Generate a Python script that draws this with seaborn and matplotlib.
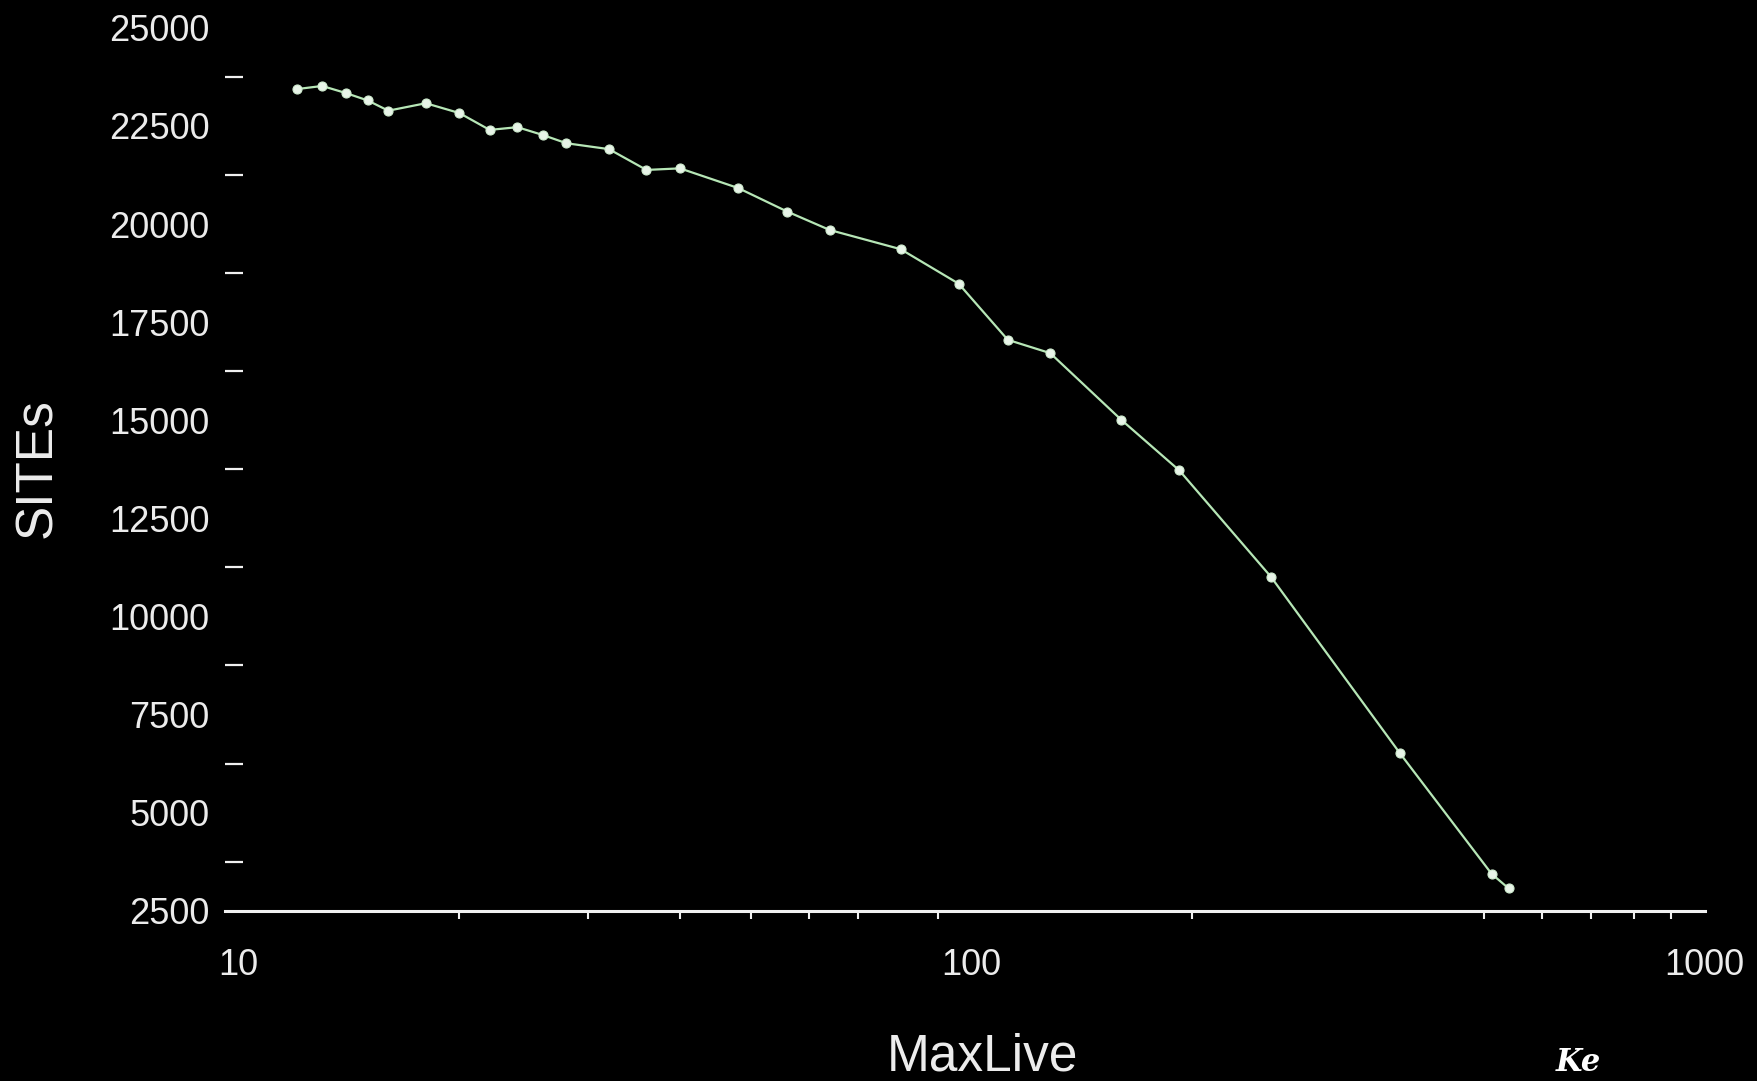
import matplotlib
matplotlib.use("Agg")
import matplotlib.pyplot as plt
import seaborn as sns
import pandas as pd
from matplotlib.ticker import FixedLocator, FixedFormatter, NullFormatter

# ---- data ----
max_live = [12, 13, 14, 15, 16, 18, 20, 22, 24, 26, 28, 32, 36, 40, 48, 56,
            64, 80, 96, 112, 128, 160, 192, 256, 384, 512, 540]
sites = [23440, 23520, 23340, 23150, 22890, 23080, 22830, 22400, 22470, 22270,
         22060, 21910, 21380, 21420, 20920, 20320, 19850, 19360, 18480, 17050,
         16710, 15010, 13720, 11010, 6510, 3440, 3070]

y_tick_values = [2500, 5000, 7500, 10000, 12500, 15000, 17500, 20000, 22500, 25000]
y_tick_labels = ["2500", "5000", "7500", "10000", "12500", "15000", "17500",
                 "20000", "22500", "25000"]
y_mark_values = [3750, 6250, 7500, 8750, 11250, 12500, 13750, 16250, 17500,
                 18750, 21250, 22500, 23750]
x_tick_values = [10, 100, 1000]
x_tick_labels = ["10", "100", "1000"]
x_mark_values = [20, 30, 40, 50, 60, 70, 90, 100, 200, 500, 600, 700, 800, 900]

x_label = "MaxLive"
y_label = "SITEs"
logo_text = "Ke"

# ---- style ----
sns.set_theme(style="dark", rc={
    "figure.facecolor": "black",
    "axes.facecolor": "black",
    "savefig.facecolor": "black",
    "axes.grid": False,
})
plt.rcParams["font.family"] = ["Liberation Sans", "DejaVu Sans"]

W, H = 1758, 1081
fig = plt.figure(figsize=(W / 100, H / 100), dpi=100)
left_px, right_px, bottom_px, top_px = 225, 1704.7, 910.7, 27.9
ax = fig.add_axes([left_px / W, (H - bottom_px) / H,
                   (right_px - left_px) / W, (bottom_px - top_px) / H])
ax.set_facecolor("black")

df = pd.DataFrame({"MaxLive": max_live, "SITEs": sites})
sns.lineplot(data=df, x="MaxLive", y="SITEs", ax=ax, color="#b6e6b6",
             linewidth=1.6, marker="o", markersize=6.5,
             markerfacecolor="#e8f4e8", markeredgecolor="#cfeccf",
             markeredgewidth=0.8)

ax.set_xscale("log")
ax.set_xlim(9.579, 1000)
ax.set_ylim(2500, 25000)

for s in ["top", "right", "left"]:
    ax.spines[s].set_visible(False)
ax.spines["bottom"].set_color("#f0f0f0")
ax.spines["bottom"].set_linewidth(2.2)

txt_col = "#ececec"
ax.xaxis.set_major_locator(FixedLocator(x_tick_values))
ax.xaxis.set_major_formatter(FixedFormatter(x_tick_labels))
ax.xaxis.set_minor_locator(FixedLocator(x_mark_values))
ax.xaxis.set_minor_formatter(NullFormatter())
ax.tick_params(axis="x", which="major", length=0, pad=27, labelsize=26,
               labelcolor=txt_col)
ax.tick_params(axis="x", which="minor", length=6, width=1.5, direction="out",
               color="#f0f0f0", bottom=True)

ax.yaxis.set_major_locator(FixedLocator(y_tick_values))
ax.yaxis.set_major_formatter(FixedFormatter(y_tick_labels))
ax.yaxis.set_minor_locator(FixedLocator(y_mark_values))
ax.yaxis.set_minor_formatter(NullFormatter())
ax.tick_params(axis="y", which="major", length=0, pad=11, labelsize=26,
               labelcolor=txt_col)
ax.tick_params(axis="y", which="minor", length=13, width=1.6, direction="in",
               color="#f0f0f0", left=True)

ax.set_xlabel("")
ax.set_ylabel("")
fig.text(37.5 / W, 1 - 468 / H, y_label, rotation=90, ha="center",
         va="center", fontsize=37, color=txt_col)
fig.text(982 / W, 1 - 1057 / H, x_label, ha="center", va="center",
         fontsize=37, color=txt_col)
fig.text(1556 / W, 3 / H, logo_text, ha="left", va="bottom", fontsize=22,
         fontweight="bold", style="italic", family="DejaVu Serif",
         color="white")

fig.savefig("out.png", dpi=100, facecolor="black")
